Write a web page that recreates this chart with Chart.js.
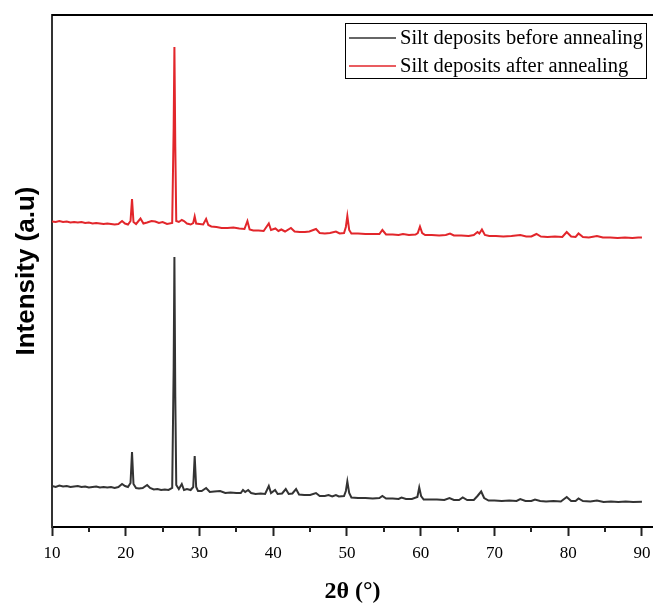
<!DOCTYPE html>
<html>
<head>
<meta charset="utf-8">
<script src="https://cdn.jsdelivr.net/npm/chart.js@4/dist/chart.umd.min.js"></script>
<style>
  html, body { margin: 0; padding: 0; background: #fff; }
  canvas { display: block; }
</style>
</head>
<body>
<canvas id="xrd" width="653" height="605"></canvas>
<script>
/*** dados ***/
const seriesLabels = ['Silt deposits before annealing', 'Silt deposits after annealing'];

// 2θ (°) e intensidade (a.u)
const anglesBefore = [
  10, 10.5, 11, 11.5, 12, 12.5, 13, 13.5, 14, 14.5,
  15, 15.5, 16, 16.5, 17, 17.5, 18, 18.5, 19, 19.5,
  19.9, 20.3, 20.65, 20.85, 21.05, 21.4, 21.8, 22.3, 22.9, 23.3,
  23.8, 24.3, 24.8, 25.3, 25.8, 26.3, 26.5, 26.6, 26.72, 26.85,
  27.2, 27.6, 27.9, 28.3, 28.8, 29.15, 29.35, 29.55, 29.8, 30.3,
  30.9, 31.4, 32.0, 32.8, 33.5, 34.2, 35.0, 35.6, 35.9, 36.2,
  36.6, 37.0, 37.6, 38.3, 38.9, 39.4, 39.7, 40.25, 40.6, 41.2,
  41.7, 42.1, 42.6, 43.1, 43.5, 44.2, 45.0, 45.8, 46.3, 47.0,
  47.5, 48.0, 48.5, 48.9, 49.6, 49.85, 50.05, 50.3, 50.6, 51.5,
  52.5, 53.5, 54.4, 54.8, 55.3, 56.2, 57.0, 57.4, 58.0, 58.8,
  59.55, 59.8, 60.05, 60.4, 61.2, 62.2, 63.2, 63.9, 64.5, 65.2,
  65.7, 66.3, 67.2, 67.7, 68.2, 68.6, 69.2, 70.0, 71.0, 72.0,
  73.0, 73.5, 74.2, 75.0, 75.5, 76.2, 77.0, 78.0, 79.0, 79.8,
  80.4, 81.0, 81.4, 82.0, 83.0, 83.9, 84.8, 85.8, 86.8, 87.8,
  88.8, 90.0,
];
const intensityBefore = [
  41, 40, 41.5, 40.5, 41, 40, 40.5, 41, 40, 40.5,
  39.5, 40, 40.5, 39.5, 40, 39.5, 40, 39, 40, 43,
  41, 40, 44, 75, 43, 39, 38.5, 39, 42, 39,
  37.5, 38, 37, 37.5, 37, 39, 160, 270, 130, 42,
  38, 43, 37, 38, 37, 40, 71, 40, 36, 36,
  39, 35, 35.5, 36, 34, 34.5, 34, 34, 37, 35,
  37, 34, 33, 33.5, 33, 41, 34, 37, 33, 33.5,
  38, 33, 33.5, 38, 32.5, 32, 32, 34, 31, 31,
  32, 30.5, 32, 30.5, 31, 36, 45.5, 34, 29.5, 29,
  29, 28.5, 29, 31, 28.5, 28.5, 28, 29.5, 28, 28,
  30, 39.5, 31, 27.5, 27.5, 27.5, 27, 29, 27, 27,
  29.5, 27, 27, 31, 35.5, 29, 26.5, 26.5, 26, 26.5,
  26, 28, 26, 26, 27.5, 26, 25.5, 26, 25.5, 30,
  26, 26, 28.5, 26, 25.5, 26.5, 25, 25.5, 25, 25.5,
  25, 25.3,
];

const anglesAfter = [
  10, 10.5, 11, 11.5, 12, 12.5, 13, 13.5, 14, 14.5,
  15, 15.5, 16, 16.5, 17, 17.5, 18, 18.5, 19, 19.5,
  19.9, 20.3, 20.65, 20.85, 21.05, 21.4, 22.0, 22.4, 22.9, 23.5,
  24.0, 24.5, 25.0, 25.6, 26.3, 26.5, 26.6, 26.72, 26.85, 27.2,
  27.6, 27.9, 28.3, 28.8, 29.15, 29.35, 29.55, 30.0, 30.5, 30.9,
  31.2, 31.6, 32.3, 33.0, 33.8, 34.6, 35.4, 36.1, 36.5, 36.8,
  37.3, 38.0, 38.7, 39.4, 39.7, 40.3, 40.7, 41.1, 41.6, 42.4,
  42.9, 43.6, 44.3, 44.9, 45.8, 46.3, 47.0, 47.7, 48.5, 49.0,
  49.6, 49.85, 50.05, 50.3, 50.6, 51.5, 52.5, 53.5, 54.4, 54.8,
  55.3, 56.2, 57.0, 57.6, 58.4, 59.3, 59.6, 59.9, 60.2, 60.6,
  61.5, 62.5, 63.4, 63.97, 64.5, 65.5, 66.5, 67.2, 67.7, 67.95,
  68.3, 68.7, 69.3, 70.2, 71.2, 72.3, 73.5, 74.3, 75.0, 75.7,
  76.3, 77.2, 78.2, 79.2, 79.8, 80.4, 81.0, 81.4, 82.0, 82.8,
  83.9, 84.7, 85.7, 86.7, 87.7, 88.7, 89.5, 90.0,
];
const intensityAfter = [
  305.5, 305, 306, 305, 305.5, 304.5, 305, 304.5, 305, 304,
  304.5, 303.5, 304, 303.5, 303, 303.5, 303, 302.5, 303, 306,
  303.5, 302.5, 306, 328, 305, 303, 308.5, 303.5, 304.5, 306,
  305.5, 304, 305, 303, 304, 400, 480, 380, 306, 305,
  307, 306, 303.5, 302.5, 304, 310.5, 303.5, 303, 302.5, 308,
  302, 300.5, 300, 299, 299, 299.5, 298.5, 298, 306, 297.5,
  296.5, 296.5, 296, 303.5, 297, 298.5, 296, 297.5, 295.5, 299,
  295.5, 295, 295, 295.5, 298, 294, 293.5, 294, 295.5, 293.5,
  294, 300, 311, 297, 293.5, 293.5, 293, 293, 293, 297,
  292.5, 292.5, 292, 293, 292, 292.5, 294, 300.5, 294, 292,
  292, 291.5, 292, 293.5, 291.5, 291.5, 291, 292, 295, 293.5,
  297.5, 292, 291, 291, 290.5, 291, 292, 290.5, 290.5, 293,
  290.5, 290, 290.5, 290, 295, 290.5, 290, 293.5, 290, 289.5,
  291, 289.5, 289.5, 289, 289.5, 289, 289.5, 289.5,
];

const xTickValues = [10, 20, 30, 40, 50, 60, 70, 80, 90];
const xMinorTicks = [15, 25, 35, 45, 55, 65, 75, 85];

/*** helpers ***/
const toPoints = (angles, values) => angles.map((a, i) => ({ x: a, y: values[i] }));

// caixa de legenda dentro da área do gráfico
const legendBox = {
  id: 'legendBox',
  afterDraw(chart) {
    const ctx = chart.ctx;
    ctx.save();
    ctx.strokeStyle = '#000';
    ctx.lineWidth = 1;
    ctx.strokeRect(345.5, 23.5, 301, 55);
    ctx.font = '20.5px "Liberation Serif", "Times New Roman", serif';
    ctx.textBaseline = 'middle';
    ctx.fillStyle = '#000';
    const rows = [38, 66];
    chart.data.datasets.forEach((ds, i) => {
      ctx.strokeStyle = ds.borderColor;
      ctx.lineWidth = 1.5;
      ctx.beginPath();
      ctx.moveTo(349, rows[i]);
      ctx.lineTo(396, rows[i]);
      ctx.stroke();
      ctx.fillText(ds.label, 400, rows[i] + 1);
    });
    ctx.restore();
  },
};

// borda superior e ticks menores
const frameExtras = {
  id: 'frameExtras',
  afterDraw(chart) {
    const { ctx, chartArea, scales } = chart;
    ctx.save();
    ctx.strokeStyle = '#000';
    ctx.lineWidth = 2;
    ctx.beginPath();
    ctx.moveTo(chartArea.left, chartArea.top);
    ctx.lineTo(chartArea.right, chartArea.top);
    ctx.stroke();
    ctx.strokeStyle = '#222';
    ctx.lineWidth = 2;
    xMinorTicks.forEach((v) => {
      const px = Math.round(scales.x.getPixelForValue(v));
      ctx.beginPath();
      ctx.moveTo(px, chartArea.bottom);
      ctx.lineTo(px, chartArea.bottom + 5);
      ctx.stroke();
    });
    ctx.restore();
  },
};

/*** chart ***/
new Chart(document.getElementById('xrd'), {
  type: 'line',
  data: {
    datasets: [
      {
        label: seriesLabels[0],
        data: toPoints(anglesBefore, intensityBefore),
        borderColor: '#333333',
        borderWidth: 2,
        pointRadius: 0,
        tension: 0,
      },
      {
        label: seriesLabels[1],
        data: toPoints(anglesAfter, intensityAfter),
        borderColor: '#e2262b',
        borderWidth: 2,
        pointRadius: 0,
        tension: 0,
      },
    ],
  },
  options: {
    responsive: false,
    animation: false,
    devicePixelRatio: 1,
    layout: { padding: { top: 15, right: 0, bottom: 0, left: 0 } },
    plugins: {
      legend: { display: false },
      tooltip: { enabled: false },
    },
    scales: {
      x: {
        type: 'linear',
        min: 10,
        max: 91.5,
        afterBuildTicks: (scale) => {
          scale.ticks = xTickValues.map((v) => ({ value: v }));
        },
        afterFit: (scale) => {
          scale.height = 78;
          // o rótulo 90 não deve encolher a área do gráfico
          scale.paddingLeft = 0;
          scale.paddingRight = 0;
        },
        ticks: {
          color: '#000',
          padding: 7,
          maxRotation: 0,
          autoSkip: false,
          font: { family: '"Liberation Serif", "Times New Roman", serif', size: 17 },
        },
        grid: {
          drawOnChartArea: false,
          drawTicks: true,
          tickLength: 9,
          tickWidth: 2,
          tickColor: '#222',
        },
        border: { display: true, color: '#000', width: 2 },
        title: {
          display: true,
          text: '2θ (°)',
          color: '#000',
          padding: { top: 0, bottom: 1 },
          font: {
            family: '"Liberation Serif", "Times New Roman", serif',
            size: 24,
            weight: 'bold',
            lineHeight: 1,
          },
        },
      },
      y: {
        min: 0,
        max: 512,
        afterFit: (scale) => {
          scale.width = 52;
        },
        ticks: { display: false },
        grid: { display: false },
        border: { display: true, color: '#333', width: 2 },
        title: {
          display: true,
          text: 'Intensity (a.u)',
          color: '#000',
          padding: { top: 14, bottom: 0 },
          font: {
            family: '"Liberation Sans", Arial, sans-serif',
            size: 26,
            weight: 'bold',
            lineHeight: 1,
          },
        },
      },
    },
  },
  plugins: [legendBox, frameExtras],
});
</script>
</body>
</html>
